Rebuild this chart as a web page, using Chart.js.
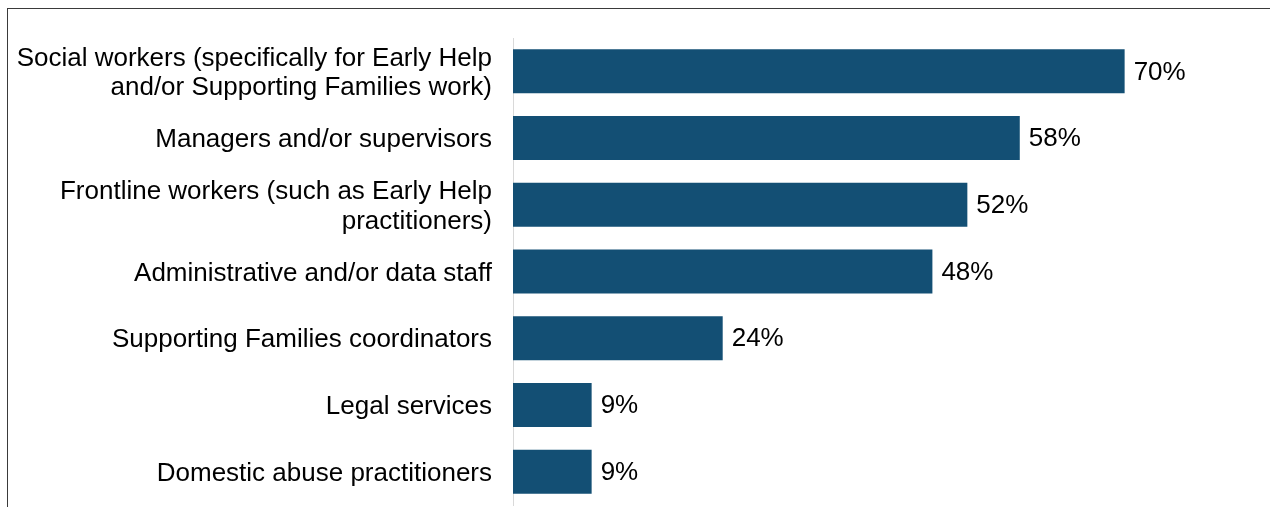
<!DOCTYPE html>
<html>
<head>
<meta charset="utf-8">
<script src="https://cdn.jsdelivr.net/npm/chart.js@4"></script>
<style>
  html, body { margin: 0; padding: 0; background: #fff; }
  #wrap { position: relative; width: 1270px; height: 507px; overflow: hidden; }
  #frame { position: absolute; left: 7px; top: 8px; right: -2px; bottom: -2px; border-top: 1px solid #3a3a3a; border-left: 1px solid #3a3a3a; }
  canvas { position: absolute; left: 0; top: 0; }
</style>
</head>
<body>
<div id="wrap">
  <div id="frame"></div>
  <canvas id="staffChart" width="1270" height="507"></canvas>
</div>
<script>
  // Staff roles and share of respondents (%)
  const roles = [
    ["Social workers (specifically for Early Help", "and/or Supporting Families work)"],
    "Managers and/or supervisors",
    ["Frontline workers (such as Early Help", "practitioners)"],
    "Administrative and/or data staff",
    "Supporting Families coordinators",
    "Legal services",
    "Domestic abuse practitioners"
  ];
  const shares = [70, 58, 52, 48, 24, 9, 9];

  const barColor = "#134F74";
  const fontFamily = "'Liberation Sans', Arial, sans-serif";
  const fontSize = 26;

  // writes "NN%" just past the end of each bar
  const valueLabels = {
    id: "valueLabels",
    afterDatasetsDraw(chart) {
      const ctx = chart.ctx;
      const meta = chart.getDatasetMeta(0);
      ctx.save();
      ctx.font = fontSize + "px " + fontFamily;
      ctx.fillStyle = "#000";
      ctx.textAlign = "left";
      ctx.textBaseline = "middle";
      meta.data.forEach((bar, i) => {
        ctx.fillText(shares[i] + "%", bar.x + 9, bar.y + 1);
      });
      ctx.restore();
    }
  };

  const ctx = document.getElementById("staffChart").getContext("2d");
  new Chart(ctx, {
    type: "bar",
    data: {
      labels: roles,
      datasets: [{
        data: shares,
        backgroundColor: barColor,
        categoryPercentage: 1,
        barPercentage: 0.66
      }]
    },
    options: {
      indexAxis: "y",
      responsive: false,
      animation: false,
      layout: { padding: { top: 38, bottom: 2, left: 0, right: 58 } },
      plugins: {
        legend: { display: false },
        tooltip: { enabled: false }
      },
      scales: {
        x: {
          display: false,
          min: 0,
          max: 80
        },
        y: {
          afterFit(scale) {
            scale.width = 513;
            // no extra room above/below for the wrapped labels
            scale.paddingTop = 0;
            scale.paddingBottom = 0;
          },
          grid: { display: false, drawTicks: false },
          border: { display: true, color: "#d9d9d9", width: 1 },
          ticks: {
            padding: 21,
            labelOffset: 2,
            color: "#000",
            font: { family: fontFamily, size: fontSize, lineHeight: 1.12 }
          }
        }
      }
    },
    plugins: [valueLabels]
  });
</script>
</body>
</html>
